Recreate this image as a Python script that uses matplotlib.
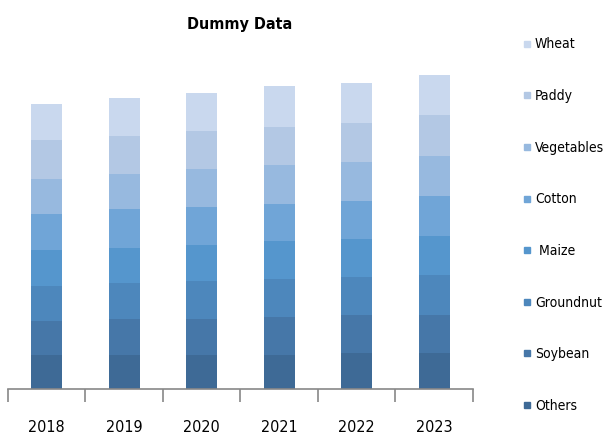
import matplotlib
matplotlib.use("Agg")
import matplotlib.pyplot as plt
from matplotlib.lines import Line2D
from matplotlib.font_manager import FontProperties
import numpy as np

years = ["2018", "2019", "2020", "2021", "2022", "2023"]
series = ["Others", "Soybean", "Groundnut", " Maize", "Cotton", "Vegetables", "Paddy", "Wheat"]
others     = [34, 34, 34, 33.3, 35.6, 35.6]
soybean    = [33.3, 36, 36, 38, 38, 38]
groundnut  = [35.7, 35.6, 38, 38, 38, 40.4]
maize      = [36, 35.4, 35.6, 38, 38, 38.3]
cotton     = [35.6, 38.3, 38, 37.7, 38, 40]
vegetables = [35.4, 35.3, 38, 38.3, 39.3, 40.3]
paddy      = [38.6, 38, 38, 38.3, 38.3, 40.7]
wheat      = [35.7, 38.4, 38.4, 40.7, 40, 40]
values = [others, soybean, groundnut, maize, cotton, vegetables, paddy, wheat]
colors = ["#3E6A96", "#4677A8", "#4D87BC", "#5596CD", "#70A5D7", "#97B9DF", "#B3C8E4", "#C9D8EE"]

fp_tick = FontProperties(family="DejaVu Sans", stretch="condensed", size=11.5)
fp_leg = FontProperties(family="DejaVu Sans", stretch="condensed", size=10)
fpt = FontProperties(family="DejaVu Sans", stretch="condensed", size=11.5, weight="bold")

fig = plt.figure(figsize=(6.04, 4.38), dpi=100)
ax = fig.add_axes([8/604, 49.5/438, 465/604, 328.5/438])

x = np.arange(len(years))
bottom = np.zeros(len(years))
for name, vals, c in zip(series, values, colors):
    ax.bar(x, vals, width=0.4, bottom=bottom, color=c, label=name, linewidth=0)
    bottom += np.array(vals)

ax.set_xlim(-0.5, len(years) - 0.5)
ax.set_ylim(0, 328.5)
for s in ["top", "right", "left"]:
    ax.spines[s].set_visible(False)
ax.spines["bottom"].set_color("#888888")
ax.spines["bottom"].set_linewidth(1.2)
ax.set_yticks([])
ax.set_xticks(x)
ax.set_xticklabels(years, fontproperties=fp_tick)
ax.tick_params(axis="x", which="major", length=0, pad=23)
ax.set_xticks(np.arange(-0.5, len(years), 1.0), minor=True)
ax.tick_params(axis="x", which="minor", length=9, color="#888888", width=1.2)

fig.text(240/604, 1 - 25/438, "Dummy Data", ha="center", va="center", fontproperties=fpt)

handles = [Line2D([], [], marker="s", linestyle="", markersize=5, color=c) for c in colors]
leg = fig.legend(handles[::-1], series[::-1], loc="upper left",
                 bbox_to_anchor=(510/604, 1 - 25/438), frameon=False,
                 labelspacing=2.71, handlelength=0.6, handletextpad=0.3,
                 prop=fp_leg)

fig.savefig("out.png", dpi=100)
